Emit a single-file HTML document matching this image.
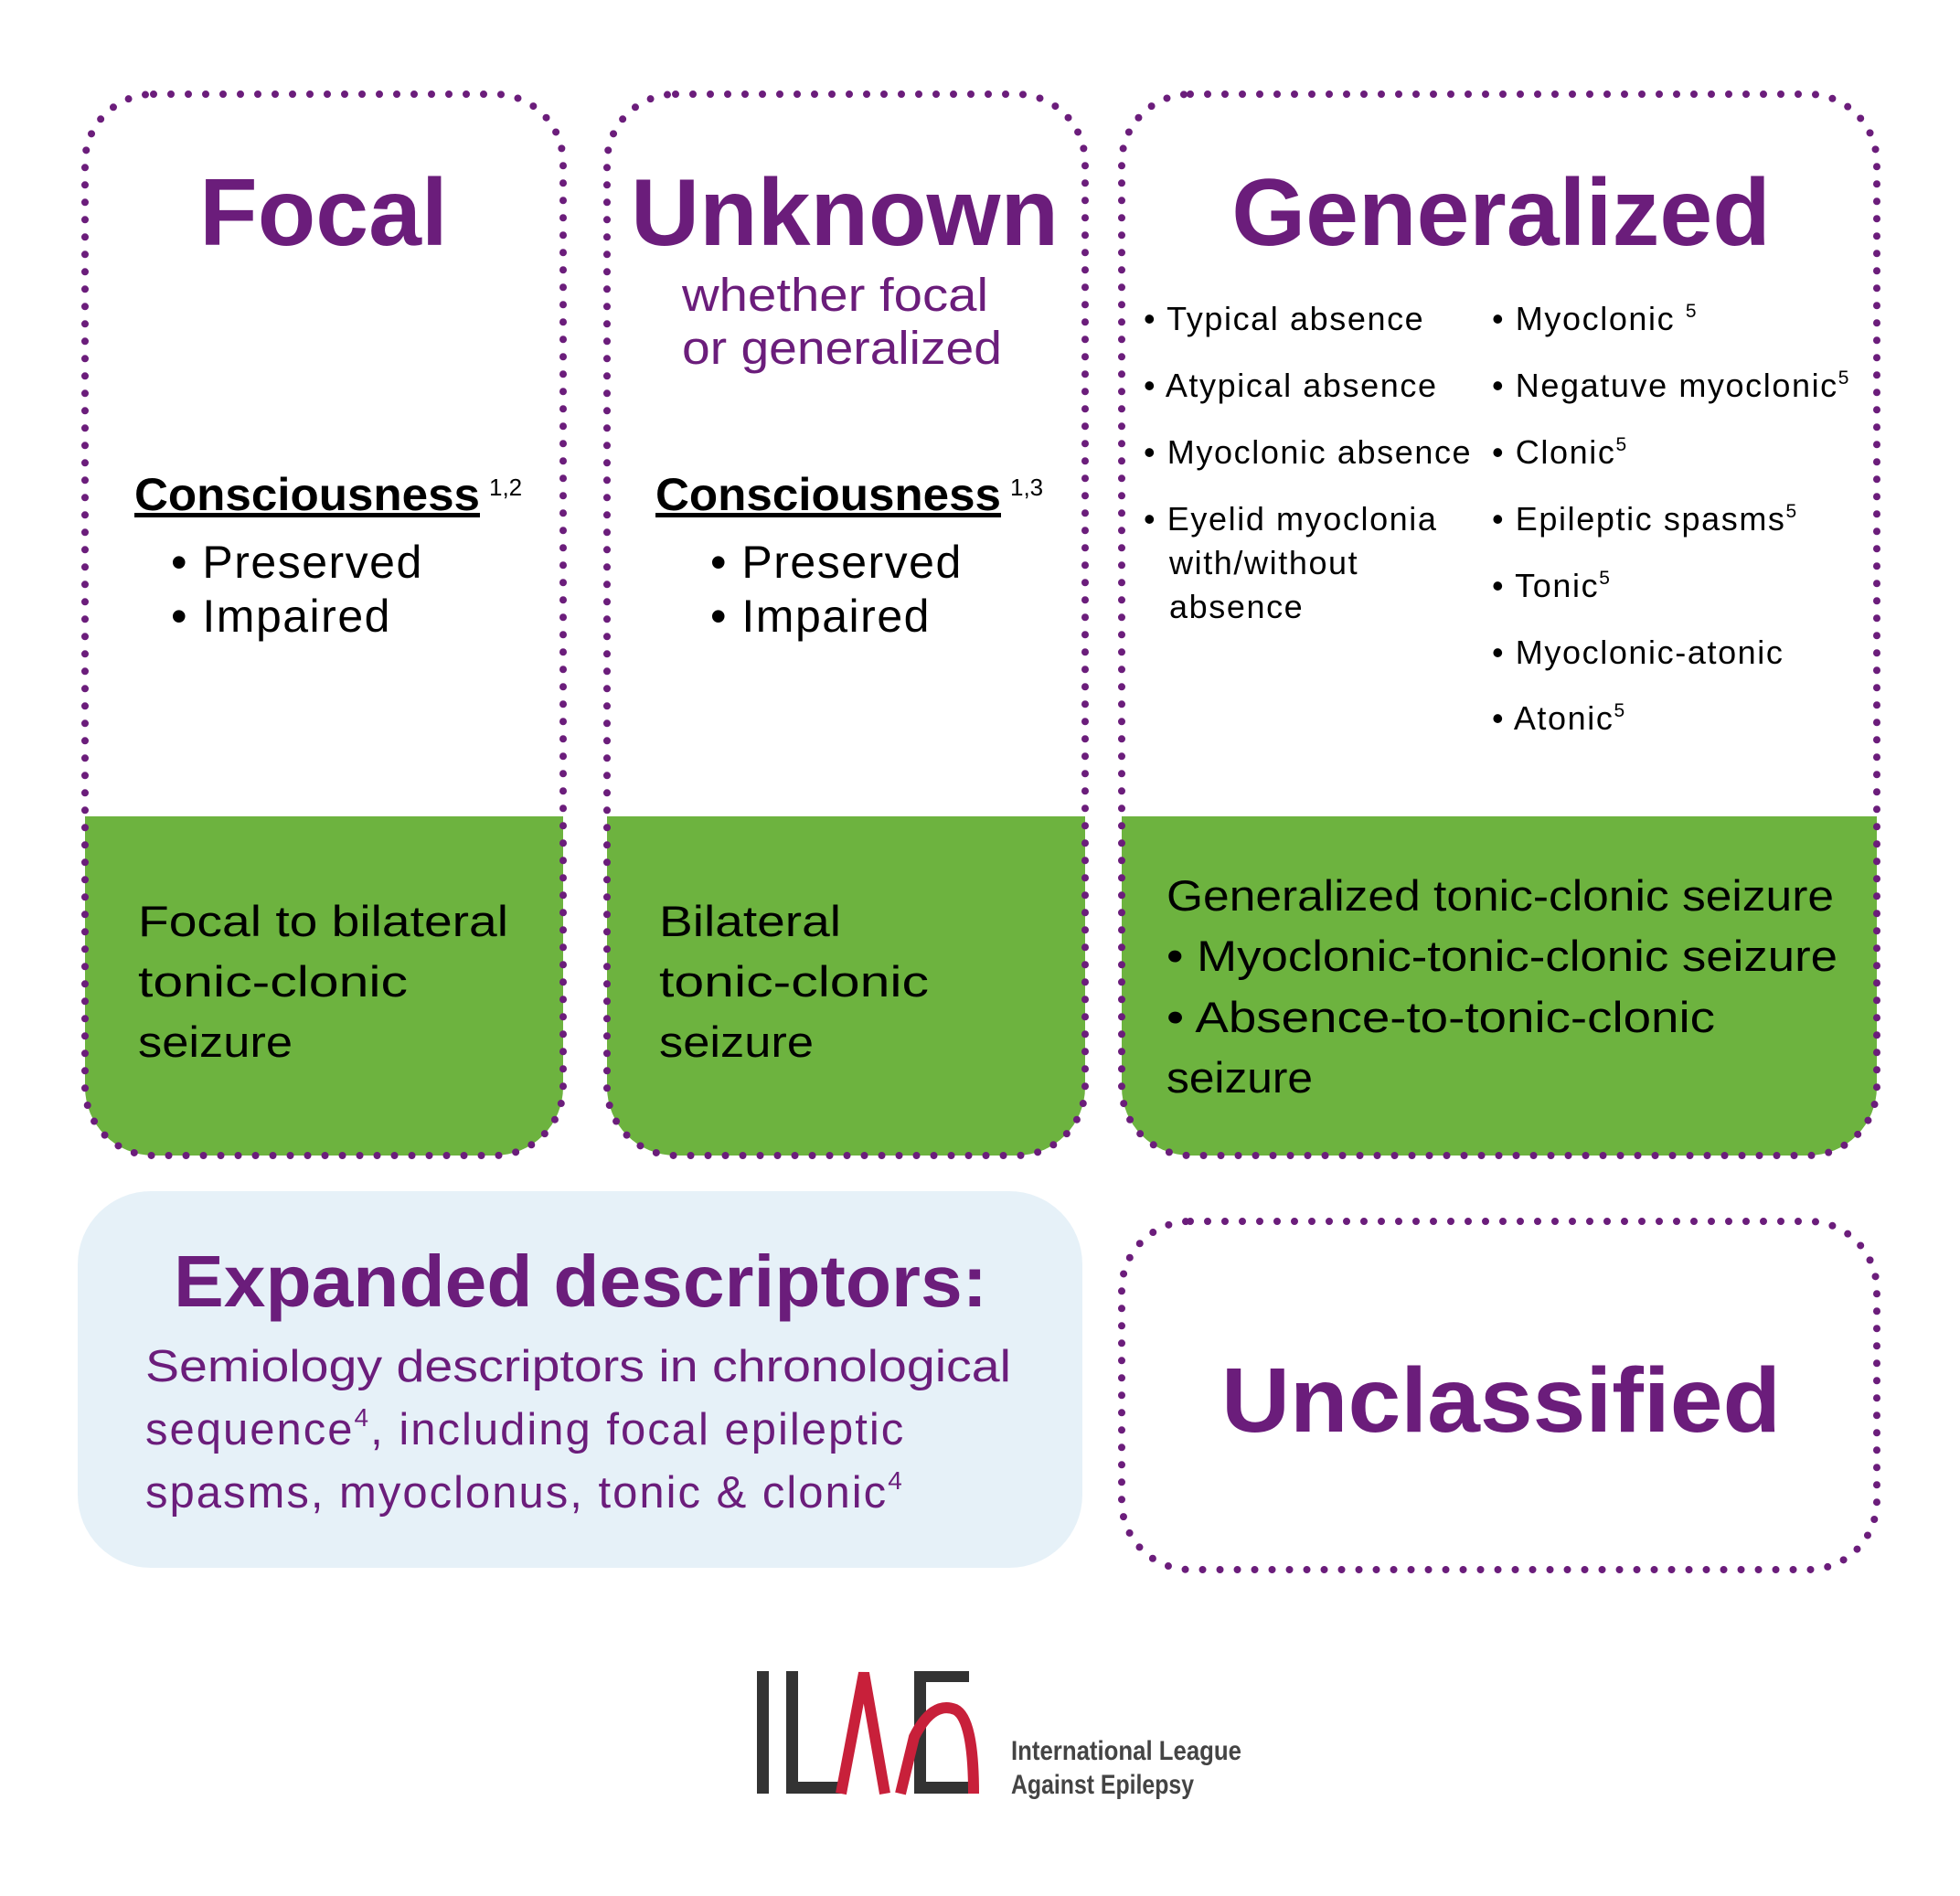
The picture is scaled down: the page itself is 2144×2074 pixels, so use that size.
<!DOCTYPE html>
<html><head><meta charset="utf-8"><style>
html,body{margin:0;padding:0;background:#fff}
svg{display:block}
text{font-family:"Liberation Sans",sans-serif}
</style></head><body>
<svg width="2144" height="2074" viewBox="0 0 2144 2074" xmlns="http://www.w3.org/2000/svg">
<defs>
<clipPath id="c1"><rect x="93" y="103" width="523" height="1161" rx="75"/></clipPath>
<clipPath id="c2"><rect x="664" y="103" width="523" height="1161" rx="75"/></clipPath>
<clipPath id="c3"><rect x="1227" y="103" width="826" height="1161" rx="75"/></clipPath>
</defs>
<rect x="93" y="893" width="523" height="380" fill="#6db33f" clip-path="url(#c1)"/>
<rect x="664" y="893" width="523" height="380" fill="#6db33f" clip-path="url(#c2)"/>
<rect x="1227" y="893" width="826" height="380" fill="#6db33f" clip-path="url(#c3)"/>
<g fill="none" stroke="#6b1d7b" stroke-width="8" stroke-linecap="round" stroke-dasharray="0 19">
<rect x="93" y="103" width="523" height="1161" rx="75"/>
<rect x="664" y="103" width="523" height="1161" rx="75"/>
<rect x="1227" y="103" width="826" height="1161" rx="75"/>
<rect x="1227" y="1336" width="826" height="381" rx="75"/>
</g>
<rect x="85" y="1303" width="1099" height="412" rx="80" fill="#e6f1f8"/>

<g fill="#6b1d7b" font-weight="bold" text-anchor="middle">
<text x="354" y="268" font-size="104">Focal</text>
<text x="924" y="268" font-size="104">Unknown</text>
<text x="1642" y="268" font-size="104">Generalized</text>
<text x="635" y="1429" font-size="80" textLength="890" lengthAdjust="spacingAndGlyphs">Expanded descriptors:</text>
<text x="1642" y="1566" font-size="100" textLength="612" lengthAdjust="spacingAndGlyphs">Unclassified</text>
</g>
<g fill="#6b1d7b" font-size="51">
<text x="746" y="340" textLength="335" lengthAdjust="spacingAndGlyphs">whether focal</text>
<text x="746" y="398" textLength="350" lengthAdjust="spacingAndGlyphs">or generalized</text>
</g>
<g fill="#6b1d7b" font-size="49">
<text x="159" y="1511" textLength="947" lengthAdjust="spacingAndGlyphs">Semiology descriptors in chronological</text>
<text x="159" y="1580" letter-spacing="2">sequence<tspan font-size="28" dy="-20">4</tspan><tspan dy="20">, including focal epileptic</tspan></text>
<text x="159" y="1649" letter-spacing="2">spasms, myoclonus, tonic &amp; clonic<tspan font-size="28" dy="-20">4</tspan></text>
</g>
<g fill="#000">
<text x="147" y="558" font-size="50" font-weight="bold" text-decoration="underline" textLength="378" lengthAdjust="spacingAndGlyphs">Consciousness</text>
<text x="535" y="542" font-size="26">1,2</text>
<text x="717" y="558" font-size="50" font-weight="bold" text-decoration="underline" textLength="378" lengthAdjust="spacingAndGlyphs">Consciousness</text>
<text x="1105" y="542" font-size="26">1,3</text>
<g font-size="50" letter-spacing="1.5">
<text x="187" y="632">• Preserved</text>
<text x="187" y="691">• Impaired</text>
<text x="777" y="632">• Preserved</text>
<text x="777" y="691">• Impaired</text>
</g>
<g font-size="36" letter-spacing="1.6">
<text x="1251" y="361">• Typical absence</text>
<text x="1251" y="434">• Atypical absence</text>
<text x="1251" y="507">• Myoclonic absence</text>
<text x="1251" y="580">• Eyelid myoclonia</text>
<text x="1279" y="628">with/without</text>
<text x="1279" y="676">absence</text>
<text x="1632" y="361">• Myoclonic <tspan font-size="21" dy="-14">5</tspan></text>
<text x="1632" y="434">• Negatuve myoclonic<tspan font-size="21" dy="-14">5</tspan></text>
<text x="1632" y="507">• Clonic<tspan font-size="21" dy="-14">5</tspan></text>
<text x="1632" y="580">• Epileptic spasms<tspan font-size="21" dy="-14">5</tspan></text>
<text x="1632" y="653">• Tonic<tspan font-size="21" dy="-14">5</tspan></text>
<text x="1632" y="726">• Myoclonic-atonic</text>
<text x="1632" y="798">• Atonic<tspan font-size="21" dy="-14">5</tspan></text>
</g>
<g font-size="47">
<text x="151" y="1024" textLength="405" lengthAdjust="spacingAndGlyphs">Focal to bilateral</text>
<text x="151" y="1090" textLength="295" lengthAdjust="spacingAndGlyphs">tonic-clonic</text>
<text x="151" y="1156" textLength="169" lengthAdjust="spacingAndGlyphs">seizure</text>
<text x="721" y="1024" textLength="199" lengthAdjust="spacingAndGlyphs">Bilateral</text>
<text x="721" y="1090" textLength="295" lengthAdjust="spacingAndGlyphs">tonic-clonic</text>
<text x="721" y="1156" textLength="169" lengthAdjust="spacingAndGlyphs">seizure</text>
<text x="1276" y="996" textLength="730" lengthAdjust="spacingAndGlyphs">Generalized tonic-clonic seizure</text>
<text x="1276" y="1062" textLength="734" lengthAdjust="spacingAndGlyphs">• Myoclonic-tonic-clonic seizure</text>
<text x="1276" y="1129" textLength="600" lengthAdjust="spacingAndGlyphs">• Absence-to-tonic-clonic</text>
<text x="1276" y="1195" textLength="160" lengthAdjust="spacingAndGlyphs">seizure</text>
</g>
</g>
<g>
<rect x="828" y="1828" width="13" height="134" fill="#333"/>
<rect x="860" y="1828" width="13" height="134" fill="#333"/>
<rect x="860" y="1949" width="60" height="13" fill="#333"/>
<path d="M920 1962 L945 1830 L968 1962" fill="none" stroke="#c8203a" stroke-width="12"/>
<rect x="1000" y="1828" width="13" height="134" fill="#333"/>
<rect x="1000" y="1828" width="60" height="12" fill="#333"/>
<rect x="1000" y="1949" width="60" height="13" fill="#333"/>
<path d="M985 1962 L1000 1900 Q1020 1860 1045 1870 Q1065 1880 1065 1962" fill="none" stroke="#c8203a" stroke-width="12"/>
<text x="1106" y="1925" font-size="30" font-weight="bold" fill="#444" textLength="252" lengthAdjust="spacingAndGlyphs">International League</text>
<text x="1106" y="1962" font-size="30" font-weight="bold" fill="#444" textLength="200" lengthAdjust="spacingAndGlyphs">Against Epilepsy</text>
</g>
</svg>
</body></html>
